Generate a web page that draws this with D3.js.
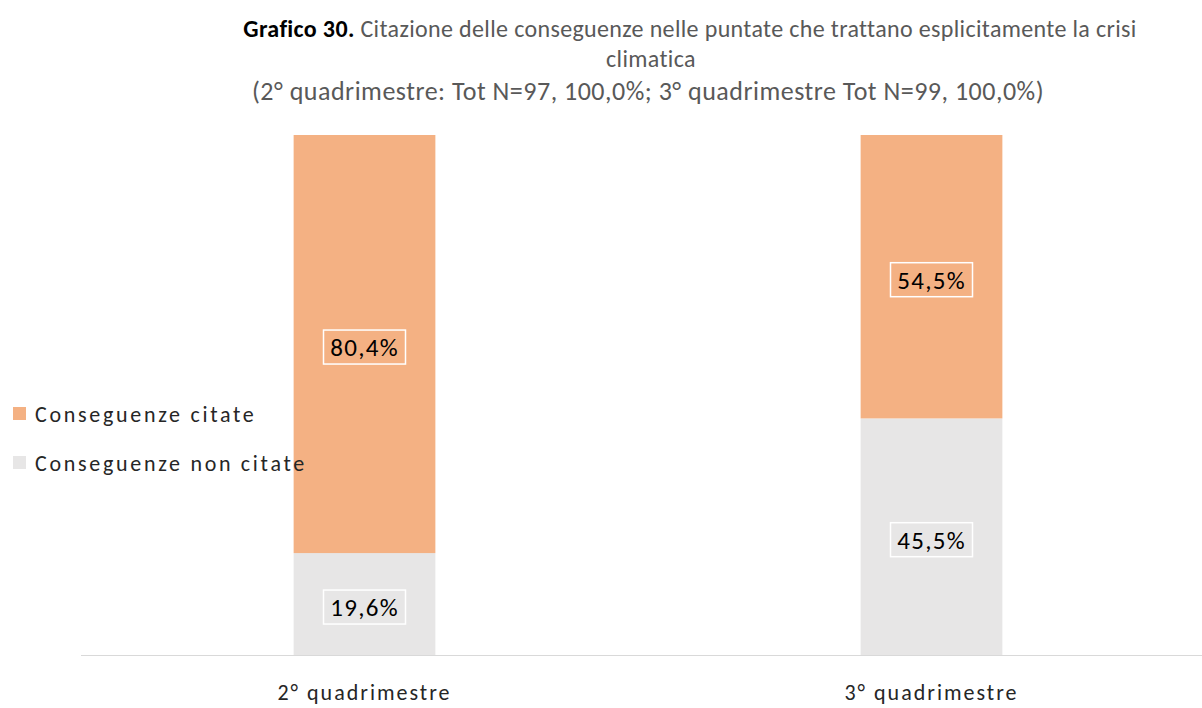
<!DOCTYPE html>
<html>
<head>
<meta charset="utf-8">
<script src="https://cdn.jsdelivr.net/npm/d3@7"></script>
<style>
  body { margin: 0; background: #fff; }
  text { font-family: Carlito, Calibri, "Open Sans", sans-serif; }
</style>
</head>
<body>
<div id="chart"></div>
<script>
// data
var categories = ["2° quadrimestre", "3° quadrimestre"];
var seriesNames = ["Conseguenze non citate", "Conseguenze citate"];
var nonCitate = [19.6, 45.5];
var citate = [80.4, 54.5];
var colors = ["#E7E6E6", "#F4B183"];

var svgWidth = 1202;
var svgHeight = 708;

var svg = d3.select("#chart")
  .append("svg")
  .attr("width", svgWidth)
  .attr("height", svgHeight);

var rows = categories.map(function(c, i) {
  return { cat: c, "Conseguenze non citate": nonCitate[i], "Conseguenze citate": citate[i] };
});
var stacked = d3.stack().keys(seriesNames)(rows);

var x = d3.scaleBand()
  .domain(categories)
  .range([81, 1215])
  .paddingInner(0.75)
  .paddingOuter(0.375);

var y = d3.scaleLinear()
  .domain([0, 100])
  .range([655, 135]);

// bars
var layers = svg.selectAll("g.layer")
  .data(stacked)
  .enter()
  .append("g")
  .attr("class", "layer")
  .attr("fill", (d, i) => colors[i]);

layers.selectAll("rect")
  .data(d => d)
  .enter()
  .append("rect")
  .attr("x", d => x(d.data.cat))
  .attr("y", d => y(d[1]))
  .attr("width", x.bandwidth())
  .attr("height", d => y(d[0]) - y(d[1]));

// axis line
svg.append("line")
  .attr("x1", 81)
  .attr("x2", 1202)
  .attr("y1", y(0) + 0.5)
  .attr("y2", y(0) + 0.5)
  .attr("stroke", "#D9D9D9")
  .attr("stroke-width", 1);

// category labels
svg.selectAll("text.cat")
  .data(categories)
  .enter()
  .append("text")
  .attr("class", "cat")
  .attr("x", d => x(d) + x.bandwidth() / 2)
  .attr("y", 700)
  .attr("text-anchor", "middle")
  .attr("font-size", "22px")
  .attr("letter-spacing", "2px")
  .attr("fill", "#262626")
  .text(d => d);

// value labels with boxes
layers.each(function(layer) {
  var g = d3.select(this);
  layer.forEach(function(d) {
    var cx = x(d.data.cat) + x.bandwidth() / 2;
    var cy = (y(d[0]) + y(d[1])) / 2 + 3;
    var val = d[1] - d[0];
    var lbl = g.append("g").attr("transform", `translate(${cx}, ${cy})`);
    lbl.append("rect")
      .attr("x", -41)
      .attr("y", -17)
      .attr("width", 82)
      .attr("height", 34)
      .attr("fill", "none")
      .attr("stroke", "#fff")
      .attr("stroke-width", 1.5);
    lbl.append("text")
      .attr("text-anchor", "middle")
      .attr("dy", "0.36em")
      .attr("font-size", "25px")
      .attr("letter-spacing", "1.3px")
      .attr("fill", "#000")
      .text(d3.format(".1f")(val).replace(".", ",") + "%");
  });
});

// legend
var legendItems = ["Conseguenze citate", "Conseguenze non citate"];
var legend = svg.selectAll("g.legend")
  .data(legendItems)
  .enter()
  .append("g")
  .attr("class", "legend")
  .attr("transform", (d, i) => `translate(13, ${407 + i * 49})`);

legend.append("rect")
  .attr("width", 13)
  .attr("height", 13)
  .attr("fill", d => colors[seriesNames.indexOf(d)]);

legend.append("text")
  .attr("x", 22)
  .attr("y", 7)
  .attr("dy", "0.36em")
  .attr("font-size", "22px")
  .attr("letter-spacing", "2.7px")
  .attr("fill", "#262626")
  .text(d => d);

// title
var title = svg.append("text")
  .attr("x", 690)
  .attr("y", 37)
  .attr("text-anchor", "middle")
  .attr("font-size", "24px")
  .attr("letter-spacing", "0.35px")
  .attr("fill", "#595959");
title.append("tspan")
  .attr("font-weight", "bold")
  .attr("fill", "#000")
  .text("Grafico 30.");
title.append("tspan")
  .text("  Citazione delle conseguenze nelle puntate che trattano esplicitamente la crisi");

svg.append("text")
  .attr("x", 651)
  .attr("y", 67)
  .attr("text-anchor", "middle")
  .attr("font-size", "24px")
  .attr("letter-spacing", "0.35px")
  .attr("fill", "#595959")
  .text("climatica");

svg.append("text")
  .attr("x", 648)
  .attr("y", 100)
  .attr("text-anchor", "middle")
  .attr("font-size", "26px")
  .attr("letter-spacing", "0.5px")
  .attr("fill", "#595959")
  .text("(2° quadrimestre: Tot N=97, 100,0%; 3° quadrimestre Tot N=99, 100,0%)");
</script>
</body>
</html>
